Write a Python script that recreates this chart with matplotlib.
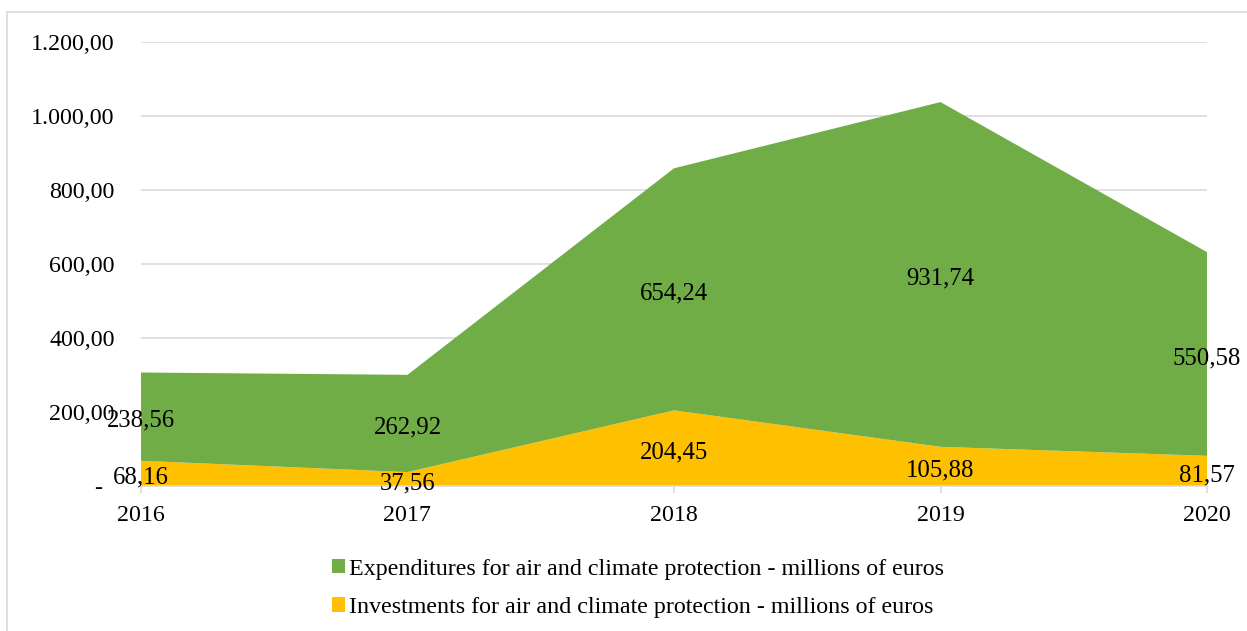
import matplotlib
matplotlib.use('Agg')
import matplotlib.pyplot as plt
from matplotlib.patches import Rectangle, Patch
from matplotlib.ticker import FuncFormatter
import numpy as np

years = ['2016', '2017', '2018', '2019', '2020']
investments = [68.16, 37.56, 204.45, 105.88, 81.57]
expenditures = [238.56, 262.92, 654.24, 931.74, 550.58]
y_ticks = [0, 200, 400, 600, 800, 1000, 1200]

label_exp = 'Expenditures for air and climate protection - millions of euros'
label_inv = 'Investments for air and climate protection - millions of euros'

GREEN = '#70AD47'
YELLOW = '#FFC000'
GRID = '#D9D9D9'

plt.rcParams['font.family'] = ['Liberation Serif', 'DejaVu Serif']
FS = 17.3


def euro_fmt(v, pos):
    # Excel-style accounting number: 1.200,00 and "-" for zero
    if abs(v) < 1e-9:
        return '-  '
    s = f'{v:,.2f}'
    return s.replace(',', 'X').replace('.', ',').replace('X', '.')


def num_label(v):
    return f'{v:.2f}'.replace('.', ',')


fig = plt.figure(figsize=(12.47, 6.31), dpi=100)
ax = fig.add_axes([141 / 1247, 1 - 486 / 631, (1207 - 141) / 1247, (486 - 42) / 631])

x = np.arange(len(years))
inv = np.array(investments)
exp_ = np.array(expenditures)

ax.stackplot(x, inv, exp_, colors=[YELLOW, GREEN], linewidth=0, zorder=2)

# data labels at the middle of each band (slightly below, like Excel)
for i in range(len(years)):
    ax.annotate(num_label(inv[i]), (x[i], inv[i] / 2), xytext=(0, -3),
                textcoords='offset points', ha='center', va='center',
                fontsize=FS + 0.5, zorder=3)
    ax.annotate(num_label(exp_[i]), (x[i], inv[i] + exp_[i] / 2), xytext=(0, -3),
                textcoords='offset points', ha='center', va='center',
                fontsize=FS + 0.5, zorder=3)

ax.set_xlim(0, len(years) - 1)
ax.set_ylim(0, 1200)
ax.set_yticks(y_ticks)
ax.yaxis.set_major_formatter(FuncFormatter(euro_fmt))
ax.set_xticks(x)
ax.set_xticklabels(years)
ax.grid(axis='y', color=GRID, linewidth=1.2, zorder=0)
ax.set_axisbelow(True)

for s in ['top', 'right', 'left']:
    ax.spines[s].set_visible(False)
ax.spines['bottom'].set_color(GRID)
ax.spines['bottom'].set_linewidth(1.2)

ax.tick_params(axis='y', length=0, pad=19, labelsize=FS)
ax.tick_params(axis='x', length=5, width=1.2, color=GRID, pad=9, labelsize=FS)

handles = [Patch(facecolor=GREEN, label=label_exp),
           Patch(facecolor=YELLOW, label=label_inv)]
fig.legend(handles=handles, loc='upper left', bbox_to_anchor=(322 / 1247, 1 - 549 / 631),
           frameon=False, fontsize=FS, handlelength=0.54, handleheight=0.54,
           handletextpad=0.2, labelspacing=0.72, borderaxespad=0)

# light border around chart area
fig.patches.append(Rectangle((7 / 1247, -0.05), 1.1, 1 - 12 / 631 + 0.05,
                             transform=fig.transFigure, fill=False,
                             edgecolor=GRID, linewidth=1.2))

fig.savefig('out.png', dpi=100, facecolor='white')
